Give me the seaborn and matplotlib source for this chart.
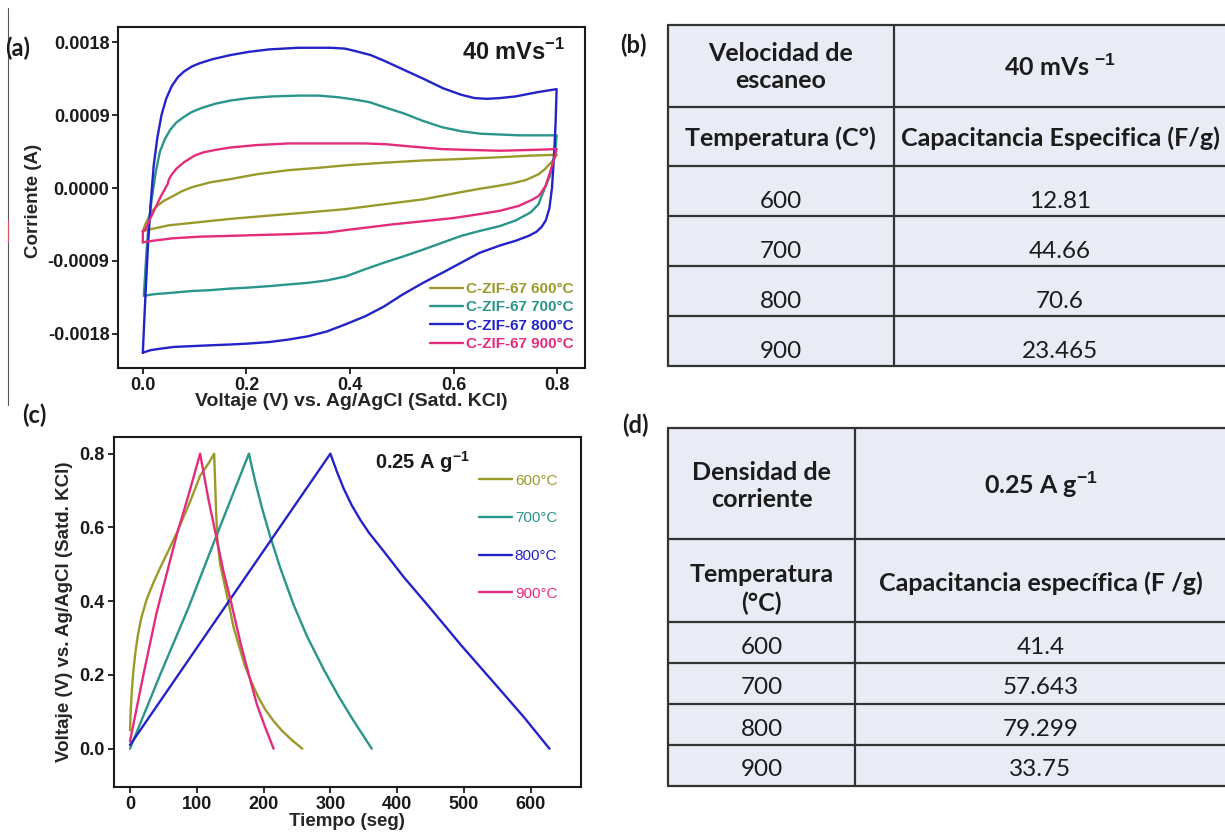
import numpy as np
import pandas as pd
import matplotlib
matplotlib.use("Agg")
import matplotlib.pyplot as plt
from matplotlib.lines import Line2D
import seaborn as sns

# ---------------- Voltametria ciclica, 40 mV/s (corriente en A) ----------------
cv_labels = ["C-ZIF-67 600°C", "C-ZIF-67 700°C", "C-ZIF-67 800°C", "C-ZIF-67 900°C"]

# barrido anodico (ida) y catodico (vuelta) de cada muestra
cv600_v_ida = [0.0, 0.006, 0.013, 0.020, 0.028, 0.040, 0.058, 0.075, 0.095, 0.130, 0.169, 0.220, 0.281, 0.340, 0.392, 0.460, 0.541, 0.620, 0.689, 0.750, 0.799]
cv600_i_ida = [-0.00053, -0.00043, -0.00034, -0.00027, -0.00022, -0.00016, -0.00010, -0.00004, 0.00001, 0.00007, 0.00011, 0.00017, 0.00022, 0.00025, 0.00028, 0.00031, 0.00034, 0.00036, 0.00038, 0.00040, 0.00041]
cv600_v_vuelta = [0.799, 0.793, 0.786, 0.776, 0.764, 0.740, 0.715, 0.689, 0.650, 0.615, 0.541, 0.466, 0.392, 0.320, 0.244, 0.170, 0.095, 0.050, 0.021, 0.0]
cv600_i_vuelta = [0.00041, 0.00035, 0.00030, 0.00023, 0.00017, 0.00010, 0.00006, 0.00003, -0.00001, -0.00005, -0.00014, -0.00020, -0.00026, -0.00030, -0.00034, -0.00038, -0.00043, -0.00046, -0.00050, -0.00053]

cv700_v_ida = [0.002, 0.005, 0.008, 0.012, 0.018, 0.025, 0.033, 0.043, 0.053, 0.065, 0.080, 0.095, 0.115, 0.140, 0.170, 0.206, 0.250, 0.303, 0.340, 0.377, 0.410, 0.437, 0.470, 0.504, 0.540, 0.578, 0.615, 0.652, 0.690, 0.726, 0.799]
cv700_i_ida = [-0.00133, -0.00100, -0.00070, -0.00040, -0.00010, 0.00020, 0.00045, 0.00061, 0.00072, 0.00081, 0.00088, 0.00094, 0.00099, 0.00104, 0.00108, 0.00111, 0.00113, 0.00114, 0.00114, 0.00112, 0.00109, 0.00106, 0.00099, 0.00092, 0.00083, 0.00075, 0.00070, 0.00067, 0.00066, 0.00065, 0.00065]
cv700_v_vuelta = [0.799, 0.797, 0.793, 0.786, 0.778, 0.770, 0.764, 0.749, 0.720, 0.689, 0.650, 0.615, 0.580, 0.541, 0.500, 0.466, 0.430, 0.392, 0.355, 0.318, 0.280, 0.244, 0.200, 0.169, 0.130, 0.095, 0.060, 0.021, 0.002]
cv700_i_vuelta = [0.00065, 0.00050, 0.00035, 0.00015, 0.00003, -0.00010, -0.00020, -0.00030, -0.00040, -0.00047, -0.00053, -0.00059, -0.00067, -0.00076, -0.00085, -0.00092, -0.00100, -0.00109, -0.00114, -0.00117, -0.00119, -0.00121, -0.00123, -0.00124, -0.00126, -0.00127, -0.00129, -0.00131, -0.00133]

cv800_v_ida = [0.0, 0.003, 0.006, 0.010, 0.015, 0.021, 0.028, 0.036, 0.045, 0.056, 0.068, 0.080, 0.095, 0.110, 0.135, 0.169, 0.205, 0.244, 0.300, 0.362, 0.390, 0.410, 0.440, 0.466, 0.500, 0.541, 0.580, 0.615, 0.640, 0.665, 0.690, 0.720, 0.760, 0.799]
cv800_i_ida = [-0.00203, -0.00160, -0.00120, -0.00070, -0.00020, 0.00028, 0.00062, 0.00090, 0.00110, 0.00126, 0.00137, 0.00144, 0.00150, 0.00154, 0.00159, 0.00164, 0.00168, 0.00171, 0.00173, 0.00173, 0.00172, 0.00169, 0.00164, 0.00157, 0.00147, 0.00135, 0.00123, 0.00115, 0.00111, 0.00110, 0.00111, 0.00113, 0.00118, 0.00122]
cv800_v_vuelta = [0.799, 0.797, 0.794, 0.790, 0.785, 0.778, 0.770, 0.760, 0.745, 0.720, 0.689, 0.650, 0.615, 0.580, 0.541, 0.500, 0.466, 0.430, 0.392, 0.355, 0.318, 0.280, 0.244, 0.200, 0.169, 0.130, 0.095, 0.060, 0.036, 0.015, 0.0]
cv800_i_vuelta = [0.00122, 0.00080, 0.00040, 0.00000, -0.00025, -0.00040, -0.00048, -0.00054, -0.00059, -0.00065, -0.00071, -0.00080, -0.00092, -0.00104, -0.00117, -0.00132, -0.00146, -0.00158, -0.00168, -0.00177, -0.00183, -0.00187, -0.00190, -0.00192, -0.00193, -0.00194, -0.00195, -0.00196, -0.00198, -0.00200, -0.00203]

cv900_v_ida = [0.0, 0.0, 0.004, 0.020, 0.035, 0.048, 0.050, 0.055, 0.065, 0.080, 0.100, 0.117, 0.140, 0.169, 0.220, 0.281, 0.350, 0.429, 0.470, 0.504, 0.540, 0.578, 0.630, 0.689, 0.750, 0.799]
cv900_i_ida = [-0.00067, -0.00053, -0.00052, -0.00030, -0.00010, 0.00005, 0.00010, 0.00016, 0.00024, 0.00032, 0.00040, 0.00044, 0.00047, 0.00050, 0.00053, 0.00055, 0.00055, 0.00055, 0.00054, 0.00052, 0.00050, 0.00048, 0.00047, 0.00046, 0.00047, 0.00048]
cv900_v_vuelta = [0.799, 0.793, 0.786, 0.778, 0.770, 0.764, 0.750, 0.726, 0.690, 0.652, 0.600, 0.541, 0.480, 0.429, 0.390, 0.355, 0.320, 0.281, 0.220, 0.169, 0.110, 0.058, 0.020, 0.0]
cv900_i_vuelta = [0.00048, 0.00033, 0.00019, 0.00003, -0.00005, -0.00010, -0.00015, -0.00022, -0.00028, -0.00032, -0.00037, -0.00041, -0.00045, -0.00049, -0.00052, -0.00055, -0.00056, -0.00057, -0.00058, -0.00059, -0.00060, -0.00062, -0.00065, -0.00067]

# ---------------- Carga-descarga galvanostatica, 0.25 A/g ----------------
gcd_labels = ["600°C", "700°C", "800°C", "900°C"]

gcd600_t = [0, 1, 2.5, 5, 8, 12, 17, 25, 35, 45, 57, 70, 90, 105, 118, 126,
            127.5, 129, 131, 135, 141, 147, 155, 163, 172, 182, 192, 203, 215, 228, 242, 258]
gcd600_v = [0.05, 0.10, 0.15, 0.21, 0.26, 0.31, 0.355, 0.405, 0.45, 0.49, 0.535, 0.585, 0.67, 0.74, 0.775, 0.80,
            0.72, 0.64, 0.56, 0.50, 0.45, 0.40, 0.33, 0.28, 0.225, 0.18, 0.14, 0.105, 0.075, 0.048, 0.024, 0.0]

gcd700_t = [0, 45, 87, 130, 178, 188, 198, 210, 225, 245, 265, 290, 313, 335, 362]
gcd700_v = [0.0, 0.20, 0.38, 0.58, 0.80, 0.72, 0.65, 0.575, 0.49, 0.39, 0.305, 0.215, 0.14, 0.075, 0.0]

gcd800_t = [0, 150, 300, 310, 320, 332, 345, 358, 380, 410, 450, 496, 554, 590, 628]
gcd800_v = [0.01, 0.405, 0.80, 0.75, 0.705, 0.66, 0.62, 0.585, 0.535, 0.465, 0.38, 0.28, 0.16, 0.085, 0.0]

gcd900_t = [0, 10, 20, 30, 40, 55, 70, 88, 105, 111, 117, 128, 140, 151, 165, 178, 190, 202, 215]
gcd900_v = [0.02, 0.11, 0.20, 0.285, 0.37, 0.475, 0.58, 0.69, 0.80, 0.74, 0.68, 0.585, 0.48, 0.40, 0.29, 0.20, 0.12, 0.06, 0.0]

# ---------------- Tablas de capacitancia especifica ----------------
temperaturas = ["600", "700", "800", "900"]
cap_cv = ["12.81", "44.66", "70.6", "23.465"]
cap_gcd = ["41.4", "57.643", "79.299", "33.75"]

colores = ["#9a9a2c", "#2a958a", "#2323c8", "#e42c7c"]

# ---------------- estilo ----------------
sns.set_theme(style="ticks")
plt.rcParams["font.family"] = ["Liberation Sans", "DejaVu Sans"]
plt.rcParams["mathtext.fontset"] = "custom"
plt.rcParams["mathtext.rm"] = "Liberation Sans"
plt.rcParams["mathtext.bf"] = "Liberation Sans:bold"
plt.rcParams["axes.linewidth"] = 1.5
plt.rcParams["axes.edgecolor"] = "#1a1a1a"

W, H = 1225, 833
fig = plt.figure(figsize=(W / 100, H / 100), dpi=100)


def px_axes(x0, y0, x1, y1):
    """Axes placed with pixel edges (origin top-left)."""
    return fig.add_axes([x0 / W, 1 - y1 / H, (x1 - x0) / W, (y1 - y0) / H])


def style_plot(ax):
    ax.tick_params(direction="out", length=4, width=1.3, pad=2.5, labelsize=13,
                   colors="#1a1a1a")
    for lab in ax.get_xticklabels() + ax.get_yticklabels():
        lab.set_fontweight("bold")
    for s in ax.spines.values():
        s.set_visible(True)
        s.set_linewidth(1.5)


# ---------------- (a) CV ----------------
filas = []
series_cv = [
    (cv600_v_ida + cv600_v_vuelta, cv600_i_ida + cv600_i_vuelta),
    (cv700_v_ida + cv700_v_vuelta, cv700_i_ida + cv700_i_vuelta),
    (cv800_v_ida + cv800_v_vuelta, cv800_i_ida + cv800_i_vuelta),
    (cv900_v_ida + cv900_v_vuelta, cv900_i_ida + cv900_i_vuelta),
]
for lab, (vv, ii) in zip(cv_labels, series_cv):
    for k, (v, i) in enumerate(zip(vv, ii)):
        filas.append({"muestra": lab, "orden": k, "V": v, "I": i})
df_cv = pd.DataFrame(filas)

ax_a = px_axes(118.5, 26.7, 584.6, 368)
sns.lineplot(data=df_cv, x="V", y="I", hue="muestra", hue_order=cv_labels,
             palette=colores, sort=False, estimator=None, lw=1.7,
             legend=False, ax=ax_a)
ax_a.set_xlim(-0.047, 0.853)
ax_a.set_ylim(-0.00222, 0.00199)
ax_a.set_xticks([0.0, 0.2, 0.4, 0.6, 0.8])
ax_a.set_xticklabels(["0.0", "0.2", "0.4", "0.6", "0.8"])
ax_a.set_yticks([-0.0018, -0.0009, 0.0, 0.0009, 0.0018])
ax_a.set_yticklabels(["-0.0018", "-0.0009", "0.0000", "0.0009", "0.0018"])
style_plot(ax_a)
ax_a.set_xlabel("Voltaje (V) vs. Ag/AgCl (Satd. KCl)", fontsize=14, fontweight="bold")
ax_a.set_ylabel("Corriente (A)", fontsize=13.5, fontweight="bold")
ax_a.xaxis.set_label_coords(0.5, -0.072)
ax_a.yaxis.set_label_coords(-0.165, 0.49)
ax_a.text(0.958, 0.925, r"40 mVs$^{\mathbf{-1}}$", transform=ax_a.transAxes,
          ha="right", va="center", fontsize=17, fontweight="bold", color="#1a1a1a")
h_a = [Line2D([], [], color=c, lw=1.7) for c in colores]
ax_a.legend(h_a, cv_labels, loc="lower right", bbox_to_anchor=(0.977, 0.05),
            frameon=False, borderpad=0, borderaxespad=0, handlelength=2.15,
            handletextpad=0.2, labelspacing=0.28, labelcolor="linecolor",
            prop={"weight": "bold", "size": 11})

# ---------------- (c) GCD ----------------
filas = []
series_gcd = [(gcd600_t, gcd600_v), (gcd700_t, gcd700_v),
              (gcd800_t, gcd800_v), (gcd900_t, gcd900_v)]
for lab, (tt, vv) in zip(gcd_labels, series_gcd):
    for k, (t, v) in enumerate(zip(tt, vv)):
        filas.append({"muestra": lab, "orden": k, "t": t, "V": v})
df_gcd = pd.DataFrame(filas)

ax_c = px_axes(113.5, 436.7, 580.8, 786.7)
sns.lineplot(data=df_gcd, x="t", y="V", hue="muestra", hue_order=gcd_labels,
             palette=colores, sort=False, estimator=None, lw=1.7,
             legend=False, ax=ax_c)
ax_c.set_xlim(-24.7, 674.9)
ax_c.set_ylim(-0.103, 0.846)
ax_c.set_xticks([0, 100, 200, 300, 400, 500, 600])
ax_c.set_yticks([0.0, 0.2, 0.4, 0.6, 0.8])
ax_c.set_yticklabels(["0.0", "0.2", "0.4", "0.6", "0.8"])
style_plot(ax_c)
ax_c.set_xlabel("Tiempo (seg)", fontsize=13.5, fontweight="bold")
ax_c.set_ylabel("Voltaje (V) vs. Ag/AgCl (Satd. KCl)", fontsize=13.5, fontweight="bold")
ax_c.xaxis.set_label_coords(0.5, -0.075)
ax_c.yaxis.set_label_coords(-0.086, 0.5)
ax_c.text(0.56, 0.928, r"0.25 A g$^{\mathbf{-1}}$", transform=ax_c.transAxes,
          ha="left", va="center", fontsize=14.5, fontweight="bold", color="#1a1a1a")
h_c = [Line2D([], [], color=c, lw=1.7) for c in colores]
ax_c.legend(h_c, gcd_labels, loc="upper left", bbox_to_anchor=(0.782, 0.894),
            frameon=False, borderpad=0, borderaxespad=0, handlelength=2.15,
            handletextpad=0.2, labelspacing=1.55, labelcolor="linecolor",
            prop={"size": 11})


# ---------------- (b) y (d) tablas ----------------
def tabla(x0, xcol, y_bordes, contenido, x1=1226):
    ax = px_axes(x0, y_bordes[0], x1, y_bordes[-1])
    ax.set_xlim(x0, x1)
    ax.set_ylim(y_bordes[-1], y_bordes[0])
    ax.axis("off")
    ax.add_patch(plt.Rectangle((x0, y_bordes[0]), x1 - x0, y_bordes[-1] - y_bordes[0],
                               facecolor="#e9ecf5", edgecolor="none", zorder=0))
    kw = dict(color="#333333", lw=1.6, clip_on=False, zorder=2)
    for y in y_bordes:
        ax.plot([x0, x1], [y, y], **kw)
    ax.plot([x0, x0], [y_bordes[0], y_bordes[-1]], **kw)
    ax.plot([xcol, xcol], [y_bordes[0], y_bordes[-1]], **kw)
    cx = [(x0 + xcol) / 2, (xcol + x1) / 2]
    for (txt, col, y, negrita) in contenido:
        ax.text(cx[col], y, txt, ha="center", va="center",
                fontsize=18 if negrita else 17.5,
                fontweight="bold" if negrita else "normal", family="Lato",
                color="#1c1c1c", linespacing=1.25)
    return ax


cont_b = [("Velocidad de\nescaneo", 0, 67, True),
          (r"40 mVs $^{\mathbf{-1}}$", 1, 67, True),
          ("Temperatura (C°)", 0, 138, True),
          ("Capacitancia Especifica (F/g)", 1, 138, True)]
for temp, cap, y in zip(temperaturas, cap_cv, [201, 251, 301, 351]):
    cont_b += [(temp, 0, y, False), (cap, 1, y, False)]
tabla(667.7, 894, [25, 107, 166, 216, 266, 316, 366], cont_b)

cont_d = [("Densidad de\ncorriente", 0, 486, True),
          (r"0.25 A g$^{\mathbf{-1}}$", 1, 485, True),
          ("Temperatura\n(°C)", 0, 589, True),
          ("Capacitancia específica (F /g)", 1, 583, True)]
for temp, cap, y in zip(temperaturas, cap_gcd, [647, 688, 729, 770]):
    cont_d += [(temp, 0, y, False), (cap, 1, y, False)]
tabla(668, 855, [428, 539, 622, 663, 704, 745, 786], cont_d)

# ---------------- rotulos de panel ----------------
for txt, x, y in [("(a)", 5, 48), ("(b)", 620, 45), ("(c)", 22, 415), ("(d)", 622, 425)]:
    fig.text(x / W, 1 - y / H, txt, ha="left", va="center", fontsize=17,
             fontweight="bold", family="Lato", color="#1a1a1a")

# fina linea vertical en el margen izquierdo
fig.add_artist(Line2D([8 / W, 8 / W], [1 - 8 / H, 1 - 405 / H], color="#555555", lw=0.8))
fig.add_artist(Line2D([8 / W, 8 / W], [1 - 220 / H, 1 - 242 / H], color="#e05060", lw=0.8))

fig.savefig("out.png", dpi=100)
